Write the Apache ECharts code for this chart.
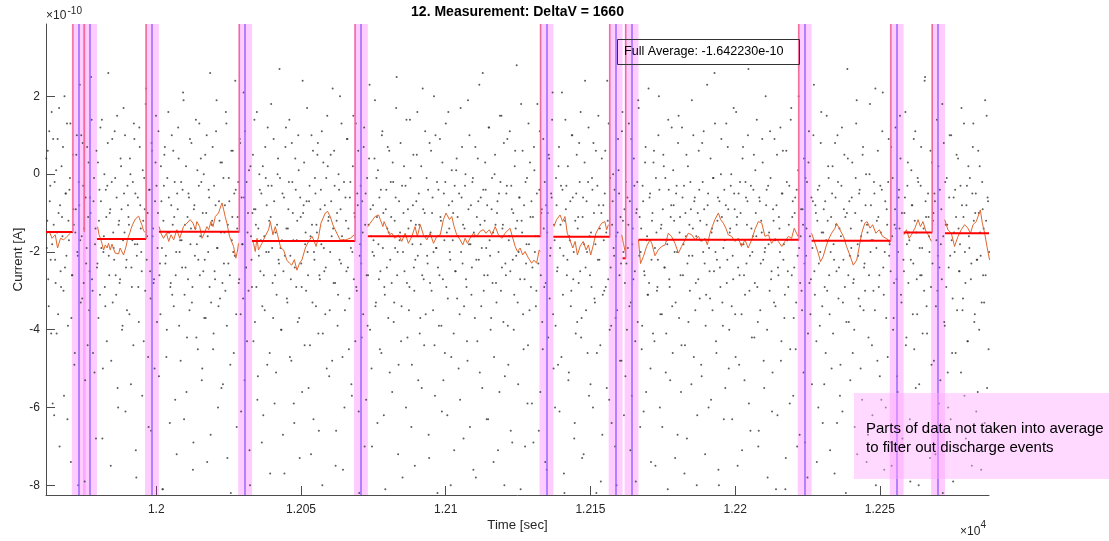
<!DOCTYPE html>
<html>
<head>
<meta charset="UTF-8">
<title>12. Measurement: DeltaV = 1660</title>
<script src="https://cdn.jsdelivr.net/npm/echarts@6/dist/echarts.min.js"></script>
<style>
  html, body { margin: 0; padding: 0; background: #fff; }
  #chart { width: 1109px; height: 541px; }
</style>
</head>
<body>
<div id="chart"></div>
<script type="text/javascript">
// axis limits (time in s, current in 1e-10 A)
var xMin = 11961.9, xMax = 12287.7;
var yMin = -8.25, yMax = 3.86;
var xTicks = [12000, 12050, 12100, 12150, 12200, 12250];
var yTicks = [-8, -6, -4, -2, 0, 2];

// raw samples: A starts at startTime, B half a step later, both every sampleStep s
var startTime = 11962.0;
var sampleStep = 0.34;
var sampleCurrentA = [
  0.4,-1.2,-2.7,1.1,-0.3,-4.1,-1.8,0.9,-6.2,-2.2,0.1,-1.5,-3.6,1.7,-0.8,-2.9,
  -1.1,0.7,-5.7,-2.4,-0.5,1.3,-3.9,-1.7,-0.1,-7.4,-2.6,0.5,-1.3,-4.6,-0.9,1.0,
  -2.1,-0.2,2.3,-3.3,-1.6,0.8,-2.8,-7.9,-0.6,-1.9,-4.4,0.3,-2.5,-1.0,1.4,-3.0,
  -0.7,-5.1,-1.4,0.6,-2.3,-3.7,-0.4,1.2,-1.9,-6.8,-2.0,0.0,-3.4,-1.1,-0.3,2.6,
  -2.6,-0.9,-4.8,0.9,-1.5,-2.2,-0.1,-3.1,1.5,-6.0,-1.2,-2.7,0.2,-4.0,-1.7,-0.5,
  1.0,-2.4,-3.5,-0.8,-1.3,0.4,-5.4,-2.9,-0.2,1.3,-1.8,-7.1,-2.1,-0.6,-3.8,0.7,
  -1.4,-2.5,0.1,-4.3,-0.9,1.8,-2.2,-1.0,-6.5,-0.4,-3.2,0.8,-1.6,-2.8,-5.0,0.3,
  -0.3,-1.9,1.1,-2.6,-3.6,-0.7,-8.1,-1.2,0.5,-2.3,-4.7,-0.1,1.6,-1.5,-2.9,-0.8,
  -3.1,0.6,-1.1,-5.8,-2.0,-0.5,1.2,-3.9,-1.7,-0.2,-2.4,2.1,-6.3,-1.3,0.2,-4.2,
  -2.7,-0.6,0.9,-1.4,-3.3,-7.6,-0.9,-2.1,1.4,-1.8,-4.5,-0.3,-2.6,0.4,-5.3,-1.0,
  0.0,-2.2,-3.7,1.0,-1.6,-0.4,-2.9,-6.7,-1.3,0.7,-4.1,-2.5,-0.8,1.9,-1.9,-3.4,
  -1.2,0.3,-5.5,-2.8,-0.1,-1.5,-3.0,1.3,-7.3,-2.3,-0.7,-4.9,0.6,-1.1,-2.0,-0.5,
  2.4,-3.6,-1.4,-0.2,-2.7,0.8,-6.1,-1.8,-3.2,-0.6,1.1,-2.4,-4.3,-1.0,0.1,-8.0,
  -1.6,-2.9,0.5,-0.9,-3.8,-1.3,1.6,-5.2,-2.1,-0.4,-1.7,-6.9,0.2,-2.6,-3.5,-0.1,
  -0.8,1.2,-2.0,-4.6,-1.1,-0.3,-2.8,0.9,-5.9,-1.5,-3.1,0.0,-2.2,2.7,-1.9,-4.0,
  -0.5,-2.5,-7.7,0.7,-1.4,-3.3,-0.9,1.4,-2.1,-4.8,-0.2,-1.7,-6.4,0.4,-2.9,-1.2,
  1.0,-3.7,-0.6,-2.3,-5.6,-1.0,0.3,-1.8,-3.0,1.7,-2.6,-0.7,-4.4,-7.2,-1.3,0.6,
  -2.0,-0.1,-3.4,-1.5,0.8,-6.6,-2.7,-0.4,1.1,-4.1,-1.9,-0.8,-2.4,-5.0,0.2,-1.1,
  -3.5,0.5,-1.6,2.2,-2.8,-0.3,-7.5,-1.2,-3.9,0.0,-2.2,-0.9,1.3,-4.7,-1.7,-6.0,
  -0.6,-2.5,0.9,-1.4,-3.2,-0.2,-5.4,-2.0,1.5,-1.0,-4.3,-2.9,-0.5,0.6,-8.2,-1.8,
  -2.3,-0.7,-3.6,1.2,-1.3,-5.8,-0.1,-2.6,0.4,-4.0,-1.6,-7.0,-0.8,-2.1,1.9,-3.3,
  -1.1,0.1,-2.7,-4.5,-0.4,1.0,-1.9,-6.2,-3.1,-0.9,-2.4,0.7,-1.5,-5.1,-0.2,-2.8,
  0.3,-3.8,-1.2,-0.6,2.5,-2.0,-4.9,-1.7,0.8,-3.4,-7.8,-1.0,-2.5,-0.3,1.4,-4.2,
  -1.4,-2.9,-0.1,-6.5,-1.8,0.5,-3.0,-2.2,-0.7,1.6,-5.3,-1.3,-3.7,0.2,-2.6,-0.9,
  -4.4,1.1,-1.6,-2.1,-0.4,-7.3,-2.8,0.6,-1.0,-3.5,2.0,-5.7,-1.9,-0.2,-2.4,-3.9,
  0.9,-1.2,-6.1,-2.7,-0.5,-4.6,1.3,-1.5,-3.2,-0.8,-2.0,-8.0,0.1,-1.7,-4.1,-0.3,
  -2.5,0.4,-1.1,-5.0,-3.6,1.7,-0.6,-2.3,-6.8,-1.4,0.0,-2.9,-4.8,-0.9,1.0,-1.8,
  -3.1,-0.2,-7.6,-1.6,0.7,-2.2,-4.3,-0.7,2.3,-1.3,-3.4,-5.5,-0.4,-2.6,0.3,-1.9,
  -0.8,-6.3,1.2,-2.1,-3.7,-0.1,-1.5,-4.7,0.5,-2.8,-1.0,-7.1,-0.5,1.5,-3.0,-2.4,
  -1.3,0.8,-5.2,-2.6,-0.3,-3.9,-1.7,1.1,-6.6,-0.9,-2.2,-4.0,0.2,-1.4,2.8,-3.3,
  -2.0,-0.6,-8.1,-1.2,0.6,-4.5,-2.7,-0.2,-1.8,-5.9,1.3,-3.5,-1.1,-0.7,-2.4,-6.9,
  0.1,-1.6,-3.0,1.8,-2.3,-0.4,-5.6,-1.0,-3.8,0.9,-2.9,-7.4,-0.8,-1.5,-4.2,0.4,
  -2.1,-0.5,1.4,-3.6,-1.3,-6.0,-0.1,-2.5,-4.9,0.7,-1.9,-0.3,2.1,-3.1,-7.7,-1.2,
  -0.9,-2.6,0.2,-5.1,-1.7,-3.4,1.0,-0.6,-2.0,-6.4,-4.1,0.5,-1.4,-2.8,-0.2,1.6,
  -3.7,-1.1,-7.2,0.3,-2.4,-0.7,-4.6,1.2,-1.6,-5.4,-2.9,-0.4,0.8,-3.2,-1.8,-8.2,
  -0.3,1.5,-2.2,-4.4,-1.0,-6.7,-0.8,-3.0,0.6,-1.5,2.4,-2.7,-5.8,-0.1,-3.9,-1.3,
  0.0,-2.1,-7.0,-1.6,-3.5,0.9,-0.5,-4.8,-2.3,1.1,-1.2,-6.2,-2.8,-0.2,-4.0,-1.9,
  1.3,-0.7,-3.3,-5.7,-1.4,0.4,-2.5,-7.9,-0.9,-3.8,1.7,-1.1,-2.0,-4.5,-0.3,-6.1,
  -2.6,0.7,-1.7,-3.1,2.2,-0.6,-5.0,-2.2,-1.0,0.3,-4.3,-7.5,-1.5,-2.9,1.0,-0.4,
  -3.6,-1.3,-6.5,0.5,-2.4,-0.1,-4.1,-1.8,1.4,-2.7,-5.3,-0.8,-3.4,0.1,-1.2,-7.3,
  -0.5,-2.0,0.8,-3.7,-1.1,-5.6,1.2,-2.6,-0.3,-4.4,-1.6,-6.8,0.2,-2.1,-3.0,-0.9,
  1.9,-1.4,-4.7,-0.6,-2.8,-8.0,-1.0,0.6,-3.2,-1.7,-5.2,-0.2,1.1,-2.3,-3.9,-1.3,
  -0.8,-6.0,-2.5,0.4,-1.5,-3.5,-0.1,2.6,-2.0,-4.6,-1.2,-7.6,-0.7,-2.9,0.9,-3.3,
  -1.9,-0.4,-5.5,1.3,-2.2,-0.9,-4.0,-1.4,0.0,-6.3,-2.7,-0.5,-3.6,1.6,-1.1,-2.4,
  -4.9,-0.2,-1.8,-7.1,0.7,-2.6,-3.1,-0.6,-1.3,1.0,-5.9,-2.1,-0.3,-4.2,-1.6,0.5,
  -2.8,-1.0,1.4,-3.8,-6.6,-0.7,-2.3,-1.5,0.3,-4.8,-2.0,2.0,-0.4,-7.8,-1.8,-3.0,
  -0.1,-2.5,-5.1,-1.2,0.9,-3.4,-0.8,-6.2,-2.6,-1.4,1.2,-4.3,-0.5,-2.2,-3.7,-8.1,
  0.6,-1.7,-2.9,-0.3,-4.5,1.7,-1.1,-5.7,-2.4,-0.6,-3.3,-7.0,0.1,-1.9,-2.8,-0.9,
  -3.5,-1.3,0.4,-6.9,-2.1,-0.2,-4.1,1.1,-1.6,-2.7,-5.4,-0.7,2.3,-3.1,-1.0,-7.4,
  -0.4,-2.3,-3.9,0.8,-1.5,-6.4,-0.9,-2.9,-4.6,1.5,-1.2,-0.1,-3.6,-2.0,-5.0,0.2,
  -1.8,-7.7,-0.6,-2.5,1.0,-3.2,-1.4,-4.9,-0.3,-6.1,-2.2,0.5,-1.1,-3.8,2.7,-2.6,
  -0.7,-5.3,-1.9,0.3,-2.8,-4.0,-1.0,1.3,-7.2,-2.1,-0.5,-3.4,-1.6,-5.8,0.7,-2.4,
  -3.0,0.0,-1.3,-6.7,-2.6,1.8,-0.8,-4.4,-1.7,-0.2,-3.5,-8.0,-1.2,0.6,-2.9,-5.2,
  -1.5,-0.4,2.1,-3.1,-2.0,-6.0,-0.9,-4.7,0.9,-1.8,-2.5,-7.5,-0.1,-3.7,-1.3,1.2,
  -2.7,-5.6,-0.6,-1.4,0.4,-3.3,-6.8,-2.2,-1.0,1.6,-4.2,-0.3,-2.8,-1.7,-7.9,0.1,
  -0.8,-2.3,-4.5,1.1,-1.5,-3.6,-0.2,-5.4,-2.6,0.7,-1.9,-6.5,-3.0,2.5,-1.1,-4.1,
  -0.5,-1.6,-7.3,-2.9,0.3,-1.2,-4.8,-0.7,-3.4,1.4,-2.1,-5.9,-0.4,-1.8,-2.7,-8.2,
  0.8,-3.9,-1.3,-0.1,-5.1,-2.4,1.0,-6.3,-1.7,-3.2,-0.6,-2.0,-4.6,0.5,-7.0,-1.4,
  -2.5,-0.3,1.7,-3.5,-1.1,-5.7,-2.8,-0.8,-4.3,0.2,-1.9,-6.6,-2.3,-0.5,1.3,-3.8,
  -1.0,-6.1,-2.2,0.6,-4.0,-1.5,-7.6,-0.2,-2.6,-3.3,1.9,-1.2,-5.5,-0.7,-2.0,-1.6
];
var sampleCurrentB = [
  -1.9,0.6,-3.4,-0.7,-2.2,1.6,-5.9,-1.3,-0.2,-2.8,-4.1,0.9,
  -1.0,-7.0,-2.5,0.2,-1.6,-3.0,2.0,-0.5,-2.1,-6.3,-1.2,-0.4,
  1.3,-3.7,-2.6,-0.9,-4.9,-1.5,0.5,-2.0,-8.0,-0.8,-1.7,1.0,
  -3.2,-0.3,-1.4,-5.3,-2.3,0.7,-1.1,-3.5,-0.6,2.5,-2.7,-4.6,
  -0.1,-1.8,-6.8,-2.4,0.3,-1.2,-3.1,-0.7,1.4,-5.0,-1.6,-2.9,
  -0.4,-4.3,0.8,-2.1,-1.0,-7.5,-0.2,-3.3,-1.9,1.1,-2.6,-0.6,
  -5.5,-1.3,-2.8,0.4,-0.9,-3.9,1.7,-1.5,-6.1,-2.2,-0.3,-1.1,
  -3.6,0.0,-2.4,-1.7,-4.4,0.9,-0.5,-7.8,-1.8,-2.9,1.2,-0.8,
  -2.0,-5.7,-1.2,-0.1,-3.0,2.2,-1.6,-4.7,-0.4,-2.5,-6.6,0.6,
  -1.4,-2.7,-0.7,1.5,-3.8,-1.0,-5.2,-2.3,0.2,-1.9,-8.1,-0.3,
  0.7,-2.1,-4.0,-1.5,-0.6,-6.4,-2.8,1.0,-1.3,-3.4,-0.2,-2.6,
  -7.2,-0.9,0.4,-2.0,-4.8,-1.7,-0.4,1.9,-3.1,-2.4,-5.6,-1.1,
  -0.5,-3.5,-1.8,0.8,-2.9,-6.9,-0.8,-1.4,-4.2,0.1,-2.2,1.3,
  -1.6,-0.2,-5.0,-2.5,-3.7,0.5,-1.0,-7.4,-2.0,-0.6,2.6,-3.3,
  -1.2,-4.5,-0.3,-2.7,1.1,-1.9,-6.0,-0.7,-3.2,-1.5,0.3,-5.4,
  -2.3,-0.8,1.6,-3.9,-1.3,-0.1,-2.6,-8.2,-1.7,0.6,-4.6,-2.1,
  -0.4,-6.5,-1.1,-2.8,0.9,-3.6,-0.6,-1.8,2.1,-5.3,-2.4,-0.2,
  -1.5,-3.0,-7.1,0.2,-2.2,-1.0,-4.3,1.4,-0.9,-2.9,-5.8,-1.4,
  0.0,-2.5,-0.5,-3.4,-6.2,-1.6,0.7,-2.0,-4.9,-0.3,-1.2,-7.7,
  1.8,-1.9,-3.7,-0.7,-2.6,-5.1,-1.3,0.4,-2.3,-0.1,-4.0,-1.7,
  -6.7,-0.6,-2.1,1.2,-3.2,-1.4,-0.2,-4.7,-2.7,0.8,-1.0,-5.9,
  -2.4,-0.4,-1.7,-3.8,0.1,-7.3,-1.1,-2.9,2.4,-0.8,-4.4,-1.5,
  -0.7,-2.0,-5.5,-0.3,-1.6,1.0,-3.3,-6.3,-2.2,-0.5,-1.3,0.5,
  -4.1,-2.6,-0.9,-1.8,-8.0,0.3,-2.5,-3.6,-0.1,1.5,-1.2,-5.2,
  -2.0,-0.7,-4.8,-1.4,0.6,-2.8,-6.6,-1.0,-3.1,-0.4,2.0,-2.3,
  -1.6,-7.6,-0.2,-3.5,-1.2,0.9,-2.4,-4.5,-0.6,-1.9,-5.7,0.2,
  -2.7,-1.1,1.3,-3.0,-0.8,-6.1,-2.1,-0.3,-4.2,-1.5,0.7,-7.0,
  -0.5,-2.6,-3.9,-1.3,2.3,-0.9,-5.0,-2.0,-1.7,0.4,-3.4,-0.1,
  -6.4,-1.8,-0.6,-2.5,-4.6,1.1,-1.0,-2.9,-8.1,-0.4,-1.4,-3.7,
  0.6,-2.2,-1.1,-5.6,-0.2,-3.3,-1.9,1.7,-2.6,-7.2,-0.7,-1.5,
  -4.3,-0.3,-2.0,0.2,-1.6,-6.0,-2.8,-0.9,-3.5,1.4,-1.2,-4.9,
  -0.8,-2.4,-7.5,-1.3,0.5,-2.1,-0.5,-4.1,-1.8,-5.5,2.2,-2.7,
  -1.0,-3.6,-0.1,-2.3,-6.7,0.8,-1.5,-3.0,-0.6,-2.0,-4.4,1.0,
  -1.9,-8.2,-0.4,-2.6,-1.1,-3.9,0.3,-5.3,-1.7,-0.2,-2.9,-6.2,
  1.6,-1.4,-2.2,-4.7,-0.7,-1.0,-7.1,-2.5,0.1,-3.2,-1.6,-0.5,
  -5.8,-2.0,0.7,-1.3,-3.4,-0.3,-2.7,-4.3,1.9,-1.8,-6.5,-0.8,
  -2.4,-0.1,-1.5,-3.7,-7.8,-1.1,0.4,-2.2,-5.1,-0.6,-1.9,2.6,
  -3.0,-1.2,-0.4,-6.3,-2.6,1.2,-1.7,-4.0,-0.9,-2.8,-7.4,0.0,
  -1.3,-3.3,-0.7,-2.0,-5.6,-0.2,1.5,-1.4,-3.8,-8.0,-2.3,-0.5,
  0.9,-4.9,-1.6,-2.5,-0.3,-6.9,-1.0,-3.1,0.6,-2.1,-1.2,-5.4,
  -0.6,-2.7,1.8,-1.5,-3.6,-0.8,-7.0,-2.3,-0.1,-4.4,-1.8,0.3,
  -2.9,-5.9,-1.1,0.7,-2.0,-3.4,-0.5,-1.6,-6.6,1.1,-2.6,-0.9,
  -4.5,-1.4,-0.2,-2.8,-7.6,-1.0,0.5,-3.2,-1.9,-0.6,2.1,-5.0,
  -1.7,-3.9,-0.8,-2.4,0.2,-6.1,-1.3,-4.7,-0.4,-2.1,-8.2,1.4,
  -0.3,-2.2,-5.3,-1.6,-0.7,-3.0,1.0,-2.7,-6.8,-1.2,-0.5,-3.8,
  -1.1,0.8,-2.5,-4.2,-7.3,-0.6,-1.8,2.4,-3.5,-2.0,-0.2,-5.7,
  -2.6,-1.5,-0.1,-6.0,-1.0,-3.3,0.6,-4.6,-2.2,-0.8,-1.4,-7.9,
  0.4,-3.1,-1.7,-0.5,-2.9,-5.5,-1.2,1.3,-4.0,-2.4,-6.4,-0.7,
  -1.9,-0.4,-3.7,-8.0,-1.5,0.1,-2.6,-1.1,-4.8,1.6,-2.0,-0.9,
  -5.2,-2.3,-0.6,-1.3,-3.4,-7.1,0.9,-1.8,-2.7,-0.3,-4.3,-1.0,
  -0.2,1.9,-2.1,-6.5,-1.4,-3.9,-0.7,-2.5,0.3,-5.6,-1.6,-3.1,
  -2.8,-0.5,-7.4,-1.2,-4.1,0.6,-1.9,-0.1,-3.0,-2.2,2.0,-6.0,
  -1.4,-3.6,-0.9,0.2,-2.4,-5.1,-1.7,-8.1,-0.4,-2.9,-1.1,1.2,
  -4.6,-0.8,-2.0,-3.3,-0.3,-6.7,1.5,-1.5,-2.6,-4.4,-0.6,-1.8,
  -7.7,-1.0,0.5,-2.3,-3.8,-1.3,-0.2,-5.4,-2.1,1.0,-0.7,-3.5,
  -1.6,-6.2,-2.7,-0.4,-1.2,-4.9,0.8,-2.0,-0.9,-7.2,-3.1,2.3,
  -0.5,-1.9,-3.2,-5.8,-1.4,-0.1,-2.5,1.3,-4.3,-2.2,-0.6,-8.0,
  -2.4,0.0,-1.1,-3.9,-6.3,-1.7,-0.8,-2.8,0.7,-5.0,-1.5,-0.3,
  -3.4,-2.1,1.7,-0.9,-4.7,-1.3,-7.5,-0.5,-2.6,-1.0,-3.6,0.4,
  -1.8,-5.3,-0.2,-2.3,-0.7,2.7,-3.0,-6.6,-1.4,-2.0,-0.4,-4.2,
  0.1,-1.6,-2.9,-7.0,-0.6,-3.5,-1.2,0.9,-2.2,-5.5,-1.9,-0.8,
  -4.0,-0.3,-1.5,1.1,-2.7,-6.1,-0.9,-3.3,-1.7,-8.1,0.5,-2.4,
  -1.1,-2.0,-4.8,-0.5,0.6,-1.8,-3.1,-7.3,-0.2,-2.5,-1.3,-5.9,
  1.4,-2.6,-0.7,-3.7,-1.0,-4.5,-0.4,-2.1,2.0,-6.7,-1.6,-3.0,
  -0.9,-5.1,-2.3,-0.1,-1.4,-7.8,0.3,-2.8,-3.6,-0.6,-1.9,1.0,
  -2.5,-0.8,-4.3,-1.2,-6.0,-0.3,-2.0,1.6,-3.4,-1.5,-5.4,-0.7,
  -1.7,-3.0,0.2,-2.6,-7.1,-1.1,-0.5,-4.1,-2.2,0.8,-1.3,-6.4,
  -0.2,-2.4,-5.7,-1.6,1.2,-3.3,-0.9,-2.9,-8.2,-1.0,0.4,-3.8,
  -2.1,-1.4,-0.6,-4.6,-2.7,-6.5,-0.1,1.9,-1.8,-3.2,-0.4,-5.0,
  -1.2,0.5,-3.5,-2.3,-0.8,-7.4,-1.5,-4.2,0.0,-2.0,-1.7,-6.2,
  -3.0,-0.5,2.2,-1.9,-4.8,-1.1,-2.6,-0.3,-5.8,1.1,-2.4,-7.6,
  -0.7,-3.7,-1.3,-0.2,-2.1,-6.9,0.7,-1.6,-4.0,-2.8,-0.9,-1.4,
  -5.2,-2.0,-0.4,1.5,-3.1,-1.0,-7.0,-2.5,-0.6,-4.4,-1.8,0.3,
  -1.5,-6.3,-2.2,-0.8,-3.6,0.9,-1.2,-5.5,-2.7,-0.1,-8.0,-1.9,
  -0.3,-2.6,-4.1,-1.4,2.4,-0.7,-3.4,-6.6,-1.1,-2.0,0.6,-4.9,
  -2.3,-1.0,-0.5,-7.2,-1.7,-3.0,0.2,-2.4,-5.3,-0.9,1.8,-1.6,
  -3.8,-0.2,-2.9,-1.3,-6.0,-0.6,-2.1,1.0,-4.6,-7.9,-1.5,-0.4,
  -1.1,-3.5,0.4,-2.5,-1.8,-5.1,-0.8,-3.2,1.3,-2.0,-6.8,-0.3,
  -4.3,-1.6,-0.1,-2.7,-7.5,0.7,-1.2,-3.6,-0.5,-2.2,-5.6,-1.0,
  0.2,-2.1,-3.3,-0.9,-1.4,-6.4,-2.6,1.5,-0.6,-4.5,-1.9,-3.0
];

// discharge events: excluded window is event +/- bandHalfWidth
var eventTimes = [11973.2, 11977.1, 11998.5, 12030.7, 12070.7, 12134.8, 12158.7, 12164.2, 12224.0, 12255.8, 12270.1];
var bandHalfWidth = 2.4;
var markOffset = 2.0;
var markLevels = [-1.49, -1.49, -1.67, -1.48, -1.72, -1.60, -1.61, -2.16, -1.69, -1.71, -1.50];

// averages of the kept pieces
var avgStart = [11961.9, 11979.5, 12000.9, 12033.1, 12073.1, 12137.2, 12161.1, 12166.6, 12226.4, 12258.2, 12272.5];
var avgEnd   = [11971.2, 11996.5, 12028.7, 12068.7, 12132.8, 12156.7, 12162.2, 12222.0, 12253.8, 12268.1, 12287.7];
var avgLevel = [-1.49, -1.67, -1.48, -1.72, -1.60, -1.61, -2.16, -1.69, -1.71, -1.50, -1.52];

// moving average (null = gap)
var smoothTime = [
  11962.3,11963.0,11964.0,11965.1,11965.9,11966.9,11968.0,11969.2,11970.3,11970.8,11973.2,
  11979.7,11980.2,11980.7,11981.3,11981.8,11982.4,11983.0,11983.5,11984.1,11984.7,11985.3,11985.8,11986.4,11987.0,11987.5,11988.1,11988.7,11989.2,11989.6,11990.0,11990.4,11990.9,11991.3,11991.8,11992.2,11992.8,11993.3,11993.9,11994.5,11995.0,11995.6,11996.1,11998.5,
  12001.0,12001.6,12002.5,12003.5,12004.3,12005.1,12006.0,12007.1,12008.1,12009.4,12010.6,12011.7,12012.7,12013.5,12014.0,12015.0,12015.8,12016.6,12017.5,12018.1,12018.9,12019.6,12020.4,12021.5,12022.7,12023.3,12023.8,12024.4,12025.3,12026.7,12027.5,12028.1,12028.4,12030.7,
  12033.2,12033.6,12034.2,12034.8,12035.3,12036.5,12037.6,12038.8,12039.4,12040.3,12041.1,12041.9,12043.0,12044.0,12045.1,12046.0,12046.8,12047.7,12048.6,12049.5,12050.3,12051.5,12052.6,12053.8,12054.6,12055.2,12056.1,12056.9,12058.4,12059.2,12060.1,12061.0,12061.8,12063.5,12065.3,12067.0,12068.4,12070.7,
  12073.1,12073.9,12075.6,12076.8,12077.4,12078.3,12078.7,12079.7,12080.6,12081.4,12082.5,12083.7,12084.8,12086.0,12087.1,12088.3,12089.4,12090.2,12091.2,12092.3,12093.5,12094.6,12095.8,12096.9,12098.1,12099.2,12100.1,12101.3,12102.1,12102.9,12103.8,12105.0,12105.9,12106.7,12107.5,12108.4,12109.6,12110.7,12111.9,12113.0,12113.9,12115.1,12115.9,12117.1,12118.2,12119.4,12120.5,12122.2,12123.2,12124.0,12124.8,12125.7,12126.6,12127.4,12128.6,12129.7,12130.5,12131.4,12132.3,12132.6,12134.8,
  12137.4,12138.3,12139.5,12140.4,12141.2,12142.0,12142.9,12143.9,12144.7,12145.5,12146.4,12147.5,12148.5,12149.3,12150.1,12151.0,12151.9,12153.1,12153.9,12155.0,12155.6,12156.2,12158.7,
  12160.8,12161.4,12162.0,12164.2,
  12166.6,12167.3,12168.3,12169.4,12170.6,12171.2,12172.3,12173.4,12174.6,12175.8,12176.9,12178.0,12179.2,12180.4,12181.5,12182.7,12183.8,12185.0,12186.2,12187.3,12188.4,12189.6,12190.4,12191.3,12192.1,12193.0,12194.2,12195.0,12195.9,12196.8,12197.6,12198.8,12199.9,12201.1,12202.2,12203.4,12204.5,12205.7,12206.8,12208.0,12209.2,12210.3,12211.5,12212.6,12213.8,12214.9,12216.1,12217.2,12218.4,12219.5,12220.4,12221.2,12221.7,12224.0,
  12226.4,12227.6,12228.7,12229.5,12230.4,12231.4,12232.2,12233.3,12234.5,12235.0,12236.2,12237.4,12238.5,12239.6,12240.8,12241.4,12242.0,12242.8,12243.7,12244.8,12245.6,12246.6,12247.5,12248.6,12249.8,12250.9,12252.1,12252.9,12253.4,12255.8,
  12258.3,12259.2,12260.1,12260.9,12262.1,12263.2,12264.0,12264.9,12265.9,12266.7,12267.8,12270.1,
  12272.4,12273.5,12274.7,12275.8,12277.0,12278.1,12279.3,12280.4,12281.3,12282.2,12283.3,12284.7,12285.4,12286.2,12287.0,12287.9
];
var smoothCurrent = [
  -1.52,-1.47,-1.65,-1.56,-1.90,-1.65,-1.69,-1.60,-1.52,-1.47,null,
  -1.35,-1.55,-1.65,-1.80,-1.95,-1.82,-1.90,-1.78,-1.95,-1.80,-1.93,-2.03,-1.98,-2.05,-1.90,-1.93,-2.08,-1.95,-1.85,-1.70,-1.60,-1.50,-1.40,-1.30,-1.25,-1.15,-1.18,-1.08,-1.20,-1.30,-1.45,-1.50,null,
  -1.35,-1.52,-1.65,-1.52,-1.73,-1.56,-1.69,-1.43,-1.65,-1.35,-1.26,-1.17,-1.26,-1.43,-1.22,-1.35,-1.65,-1.52,-1.35,-1.43,-1.22,-1.35,-1.09,-1.00,-0.74,-0.92,-1.09,-1.26,-1.60,-1.86,-2.16,-1.95,-1.78,null,
  -1.69,-1.78,-1.99,-1.65,-1.95,-1.78,-1.60,-1.43,-1.22,-1.56,-1.35,-1.56,-1.90,-1.95,-2.21,-2.29,-2.34,-2.20,-2.47,-2.29,-2.21,-1.90,-1.73,-1.60,-1.73,-1.86,-1.60,-1.26,-1.00,-0.96,-1.09,-1.30,-1.43,-1.69,-1.69,-1.65,-1.56,null,
  -1.35,-1.26,-1.09,-1.05,-1.17,-1.35,-1.22,-1.39,-1.56,-1.52,-1.65,-1.56,-1.73,-1.52,-1.78,-1.60,-1.35,-1.60,-1.30,-1.56,-1.69,-1.52,-1.78,-1.60,-1.56,-1.17,-1.00,-1.17,-1.09,-1.35,-1.56,-1.69,-1.82,-1.65,-1.78,-1.65,-1.52,-1.60,-1.47,-1.43,-1.52,-1.43,-1.56,-1.35,-1.56,-1.65,-1.52,-1.39,-1.65,-1.86,-1.99,-1.90,-2.08,-1.99,-2.16,-2.29,-2.21,-2.29,-1.95,-1.99,null,
  -1.35,-1.17,-1.05,-1.22,-1.09,-1.52,-1.69,-1.90,-1.73,-2.08,-1.86,-1.73,-1.95,-1.82,-2.08,-1.82,-1.52,-1.35,-1.26,-1.22,-1.43,-1.30,null,
  -1.56,-1.78,-1.99,null,
  -1.69,-2.30,-2.12,-1.86,-1.69,-1.78,-2.10,-1.95,-1.86,-1.82,-1.52,-1.60,-1.78,-2.03,-1.86,-1.69,-1.52,-1.56,-1.69,-1.60,-1.73,-1.65,-1.82,-1.52,-1.35,-1.17,-1.00,-1.17,-1.26,-1.39,-1.56,-1.60,-1.73,-1.65,-1.86,-1.69,-1.90,-1.69,-1.43,-1.22,-1.26,-1.60,-1.56,-1.78,-1.65,-1.73,-1.86,-1.73,-1.60,-1.65,-1.39,-1.52,-1.60,null,
  -1.52,-1.78,-2.03,-2.25,-2.12,-1.86,-1.69,-1.52,-1.39,-1.26,-1.43,-1.60,-1.86,-2.08,-2.34,-2.38,-2.21,-1.90,-1.52,-1.26,-1.22,-1.39,-1.30,-1.52,-1.43,-1.60,-1.65,-1.69,-1.78,null,
  -1.56,-1.43,-1.65,-1.56,-1.39,-1.17,-1.35,-1.22,-1.47,-1.56,-1.73,null,
  -1.17,-1.43,-1.52,-1.86,-1.60,-1.43,-1.30,-1.39,-1.52,-1.30,-1.22,-0.92,-1.26,-1.52,-1.86,-2.21
];

var chart = echarts.init(document.getElementById('chart'));

var samplePoints = [];
sampleCurrentA.forEach(function (v, i) {
  samplePoints.push([startTime + i * sampleStep, v]);
});
sampleCurrentB.forEach(function (v, i) {
  samplePoints.push([startTime + (i + 0.5) * sampleStep, v]);
});
var smoothPoints = smoothTime.map(function (t, i) {
  return [t, smoothCurrent[i] === null ? '-' : smoothCurrent[i]];
});
var avgPoints = [];
avgStart.forEach(function (s, i) {
  avgPoints.push([s, avgLevel[i]], [avgEnd[i], avgLevel[i]], [avgEnd[i], '-']);
});
var markPoints = [];
eventTimes.forEach(function (t, i) {
  var x = t - markOffset;
  markPoints.push([x, markLevels[i]], [x, yMax], [x, '-']);
});

var axisColor = '#4d4d4d';
var labelColor = '#262626';
var font = 'Liberation Sans, Arial, sans-serif';

var option = {
  animation: false,
  textStyle: { fontFamily: font },
  grid: { left: 46, right: 120, top: 24, bottom: 46 },
  xAxis: {
    type: 'value',
    min: xMin,
    max: xMax,
    name: 'Time [sec]',
    nameLocation: 'middle',
    nameGap: 24,
    nameMoveOverlap: false,
    nameTextStyle: { color: labelColor, fontSize: 13.2 },
    axisLine: { onZero: false, lineStyle: { color: axisColor } },
    axisTick: { inside: true, length: 9, customValues: xTicks, lineStyle: { color: axisColor } },
    axisLabel: {
      customValues: xTicks,
      color: labelColor,
      fontSize: 12,
      margin: 9,
      formatter: function (v) { return String(parseFloat((v / 1e4).toFixed(4))); }
    },
    splitLine: { show: false }
  },
  yAxis: {
    type: 'value',
    min: yMin,
    max: yMax,
    name: 'Current [A]',
    nameLocation: 'middle',
    nameGap: 21,
    nameMoveOverlap: false,
    nameTextStyle: { color: labelColor, fontSize: 13.2 },
    axisLine: { show: true, onZero: false, lineStyle: { color: axisColor } },
    axisTick: { show: true, inside: true, length: 9, customValues: yTicks, lineStyle: { color: axisColor } },
    axisLabel: { customValues: yTicks, color: labelColor, fontSize: 12, margin: 6 },
    splitLine: { show: false }
  },
  series: [
    {
      name: 'samples',
      type: 'scatter',
      data: samplePoints,
      symbolSize: 2,
      itemStyle: { color: '#333333' },
      silent: true,
      z: 2
    },
    {
      name: 'moving average',
      type: 'line',
      data: smoothPoints,
      showSymbol: false,
      connectNulls: false,
      lineStyle: { color: '#e0662e', width: 1 },
      silent: true,
      z: 3
    },
    {
      name: 'piece average',
      type: 'line',
      data: avgPoints,
      showSymbol: false,
      connectNulls: false,
      lineStyle: { color: '#ff0000', width: 2 },
      silent: true,
      z: 4
    },
    {
      name: 'excluded',
      type: 'line',
      data: [],
      silent: true,
      z: 5,
      markArea: {
        silent: true,
        itemStyle: { color: 'rgba(255, 0, 255, 0.2)' },
        data: eventTimes.map(function (t) {
          return [{ xAxis: t - bandHalfWidth }, { xAxis: t + bandHalfWidth }];
        })
      },
      markLine: {
        silent: true,
        symbol: ['none', 'none'],
        label: { show: false },
        lineStyle: { color: '#9a66ff', width: 1.5, type: 'solid' },
        data: eventTimes.map(function (t) { return { xAxis: t }; })
      }
    },
    {
      name: 'cut start',
      type: 'line',
      data: markPoints,
      showSymbol: false,
      connectNulls: false,
      lineStyle: { color: '#f06a96', width: 1.5 },
      silent: true,
      z: 6
    }
  ],
  graphic: [
    {
      type: 'text', x: 517.5, y: 12,
      style: { text: '12. Measurement: DeltaV = 1660', fill: '#000', fontFamily: font, fontSize: 14, fontWeight: 'bold', align: 'center', verticalAlign: 'middle' }
    },
    {
      type: 'text', x: 46, y: 16,
      style: { text: '\u00d710', fill: labelColor, fontFamily: font, fontSize: 12, verticalAlign: 'middle' }
    },
    {
      type: 'text', x: 67.5, y: 11,
      style: { text: '-10', fill: labelColor, fontFamily: font, fontSize: 10, verticalAlign: 'middle' }
    },
    {
      type: 'text', x: 960, y: 531.5,
      style: { text: '\u00d710', fill: labelColor, fontFamily: font, fontSize: 12, verticalAlign: 'middle' }
    },
    {
      type: 'text', x: 980.5, y: 525,
      style: { text: '4', fill: labelColor, fontFamily: font, fontSize: 10, verticalAlign: 'middle' }
    },
    {
      type: 'rect', z: 100,
      shape: { x: 617.5, y: 39.5, width: 182, height: 25 },
      style: { fill: 'none', stroke: '#333', lineWidth: 1 }
    },
    {
      type: 'text', z: 101, x: 624, y: 52,
      style: { text: 'Full Average: -1.642230e-10', fill: '#000', fontFamily: font, fontSize: 12.6, verticalAlign: 'middle' }
    },
    {
      type: 'rect', z: 100,
      shape: { x: 854, y: 393, width: 260, height: 86 },
      style: { fill: 'rgba(255, 170, 255, 0.45)' }
    },
    {
      type: 'text', z: 101, x: 866, y: 438.5,
      style: { text: 'Parts of data not taken into average\nto filter out discharge events', fill: '#000', fontFamily: font, fontSize: 15, lineHeight: 18.4, verticalAlign: 'middle' }
    }
  ]
};

chart.setOption(option);
</script>
</body>
</html>
